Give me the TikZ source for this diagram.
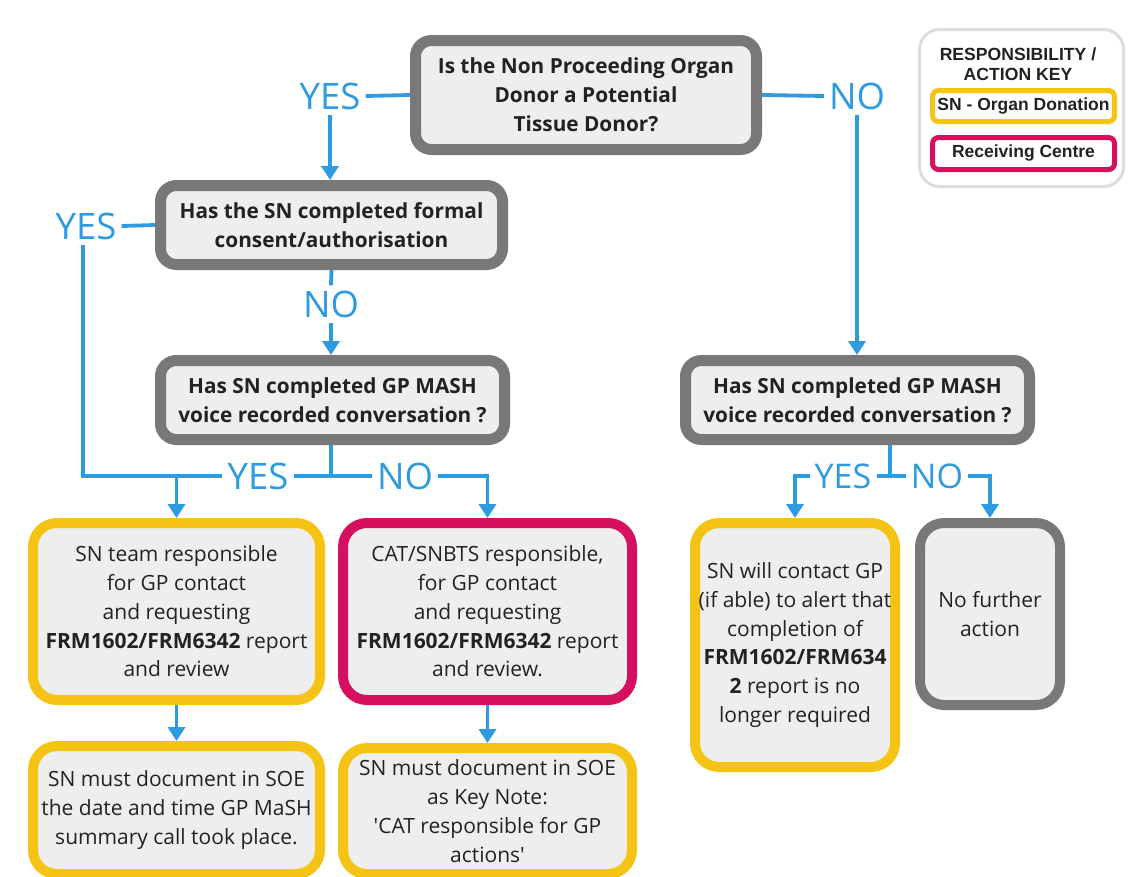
\documentclass[tikz,border=0pt]{standalone}
\usepackage{fontspec}
\setmainfont{Open Sans}
\newfontfamily\keyfont{Liberation Sans}
\usetikzlibrary{arrows.meta}
\definecolor{cblue}{HTML}{2E9AE0}
\definecolor{cgray}{HTML}{787878}
\definecolor{cfill}{HTML}{EEEEEE}
\definecolor{cyel}{HTML}{F5C313}
\definecolor{cmag}{HTML}{D5105E}
\definecolor{ctext}{HTML}{222222}
\definecolor{ckey}{HTML}{DDDDDD}
\tikzset{
  qbox/.style={draw=cgray, line width=11pt, fill=cfill, rounded corners=16pt, align=center, text=ctext, font=\fontsize{20.8}{29}\selectfont\bfseries, inner sep=0pt},
  ybox/.style={draw=cyel, line width=10pt, fill=cfill, rounded corners=24pt, align=center, text=ctext, font=\fontsize{21}{28.8}\selectfont, inner sep=0pt},
  mbox/.style={ybox, draw=cmag},
  gbox/.style={ybox, draw=cgray},
  lbl/.style={text=cblue, font=\fontsize{36.5}{38}\selectfont, inner sep=5pt},
  slbl/.style={lbl, font=\fontsize{34}{36}\selectfont},
  conn/.style={draw=cblue, line width=3.8pt},
  arr/.style={conn, -{Triangle[width=17pt,length=14pt]}},
  keybox/.style={draw=ckey, line width=3pt, fill=white, rounded corners=20pt},
  keyitem/.style={line width=5pt, fill=white, rounded corners=6pt, font=\keyfont\fontsize{17.5}{19}\selectfont\bfseries, text=ctext, inner sep=0pt}
}
\begin{document}
\begin{tikzpicture}[x=1pt,y=-1pt]
\useasboundingbox (0,0) rectangle (1131,876);
\fill[white] (0,0) rectangle (1131,876);

% key
\node[keybox, minimum width=204pt, minimum height=157pt] (key) at (1021.5,108) {};
\node[font=\keyfont\fontsize{17.6}{19.5}\selectfont\bfseries, text=ctext, align=center] (keyt) at (1018,64) {RESPONSIBILITY /\\ACTION KEY};
\node[keyitem, draw=cyel, minimum width=182pt, minimum height=31pt] (k1) at (1023.5,106) {SN - Organ Donation};
\node[keyitem, draw=cmag, minimum width=182pt, minimum height=32pt] (k2) at (1023.5,153.5) {Receiving Centre};

% question boxes
\node[qbox, minimum width=341pt, minimum height=109pt] (q1) at (586,95) {Is the Non Proceeding Organ\\Donor a Potential\\Tissue Donor?};
\node[qbox, minimum width=342pt, minimum height=79pt] (q2) at (331.5,225) {Has the SN completed formal\\consent/authorisation};
\node[qbox, minimum width=344pt, minimum height=79pt] (q3) at (332.5,400) {Has SN completed GP MASH\\voice recorded conversation ?};
\node[qbox, minimum width=344pt, minimum height=79pt] (q4) at (857.5,400) {Has SN completed GP MASH\\voice recorded conversation ?};

% result boxes
\node[ybox, minimum width=287pt, minimum height=177pt] (r1) at (176.5,611.5) {SN team responsible\\for GP contact\\and requesting\\\textbf{FRM1602/FRM6342} report\\and review};
\node[mbox, minimum width=289pt, minimum height=177pt] (r2) at (487.5,611.5) {CAT/SNBTS responsible,\\for GP contact\\and requesting\\\textbf{FRM1602/FRM6342} report\\and review.};
\node[ybox, minimum width=287pt, minimum height=128pt] (r5) at (176.5,810) {SN must document in SOE\\the date and time GP MaSH\\summary call took place.};
\node[ybox, minimum width=289pt, minimum height=126pt] (r6) at (487.5,811) {SN must document in SOE\\as Key Note:\\\textquotesingle CAT responsible for GP\\actions\textquotesingle};
\node[ybox, minimum width=200pt, minimum height=244pt] (r3) at (795,645) {SN will contact GP\\(if able) to alert that\\completion of\\\textbf{FRM1602/FRM634}\\\textbf{2} report is no\\longer required};
\node[gbox, minimum width=140pt, minimum height=182pt] (r4) at (990,614) {No further\\action};

% labels
\node[lbl] (yes1) at (330,96) {YES};
\node[lbl] (no1) at (857,96) {NO};
\node[lbl] (yes2) at (86,226) {YES};
\node[lbl] (no2) at (331,304) {NO};
\node[lbl] (yes3) at (258,476) {YES};
\node[lbl] (no3) at (405,476) {NO};
\node[slbl] (yes4) at (843,476) {YES};
\node[slbl] (no4) at (937,476) {NO};

% connectors
\draw[conn] (q1.west) -- (yes1.east);
\draw[arr] (yes1.south) -- (yes1.south |- q2.north);
\draw[conn] (q1.east) -- (no1.west);
\draw[arr] (no1.south) -- (no1.south |- q4.north);

\draw[conn] (q2.west) -- (yes2.east);
\draw[conn] (q2.south) -- (no2.north);
\draw[arr] (no2.south) -- (no2.south |- q3.north);

\draw[conn] (yes2.south -| 83,0) |- (yes3.west);
\coordinate (ja) at (r1.north |- yes3.west);
\draw[arr] (ja) -- (r1.north);
\draw[conn] (q3.south -| no2.south) -- (no2.south |- yes3.east);
\draw[conn] (yes3.east) -- (no3.west);
\draw[arr] (no3.east) -| (r2.north);

\coordinate (jt) at (890,0);
\draw[conn] (q4.south -| jt) -- (jt |- yes4.east);
\draw[conn] (yes4.east) -- (no4.west);
\draw[arr] (yes4.west) -| (r3.north);
\draw[arr] (no4.east) -| (r4.north);

\draw[arr] (r1.south) -- (r5.north);
\draw[arr] (r2.south) -- (r6.north);
\end{tikzpicture}
\end{document}
